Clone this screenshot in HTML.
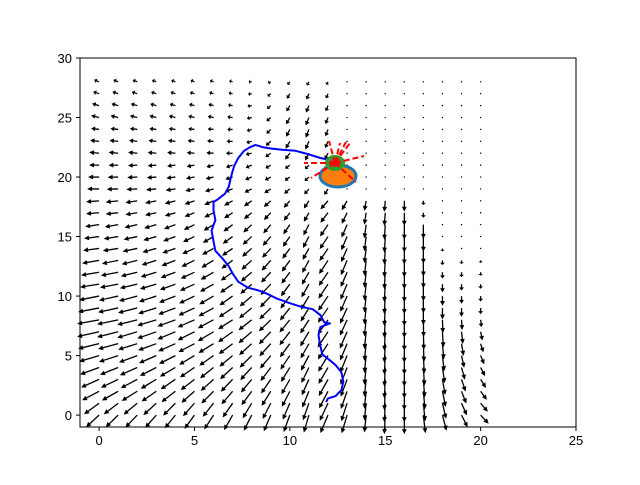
<!DOCTYPE html>
<html><head><meta charset="utf-8"><style>
html,body{margin:0;padding:0;background:#fff;}
svg text{font-family:"Liberation Sans","DejaVu Sans",sans-serif;font-size:13px;fill:#000;}
</style></head><body>
<svg id="chart" width="640" height="480" viewBox="0 0 640 480" xmlns="http://www.w3.org/2000/svg">
<rect width="640" height="480" fill="#fff"/>
<g id="arrows"></g>
<g id="path"></g>
<g id="marks"></g>
<rect x="80" y="58" width="496" height="369" fill="none" stroke="#000" stroke-width="1"/>
<g id="axes"></g>
</svg>
<script>
const xTicks=[0,5,10,15,20,25];
const yTicks=[0,5,10,15,20,25,30];
// horizontal (leftward) px magnitude at x=0 by row y=0..28
const uRow=[13,15,17,18,19,20,21,22,22,21,20,19,18,17,16,15,14,13,13,12,11,10,10,9,8,8,7,6,5];
// downward px component at x=0 by row y=0..28
const vRow=[12,11,9,8,7,6,5,5,4,4,4,3,3,3,2,2,2,1,1,0,0,0,-1,-1,-1,-2,-2,-2,-2];
// downward flow strength by row
const dRow=[19,19,19,19,19,19,19,19,18,18,18,18,17,17,16,16,15,13,11,8,6,6,7,8,8,8,7,6,4];
const pathX=[12.5,12.2,11.6,11,10.3,9.6,9,8.6,8.2,7.9,7.6,7.3,7.1,7,6.9,6.8,6.6,6.2,6,6,6.1,5.9,6,6.1,6.5,6.8,7,7.3,7.8,8.3,8.8,9.3,10,10.6,11.2,11.6,11.8,12.1,11.6,11.5,11.6,11.7,12.1,12.4,12.7,12.8,12.7,12.4,12,11.9];
const pathY=[21.2,21.4,21.6,21.9,22.2,22.3,22.4,22.5,22.7,22.5,22.2,21.6,21,20.5,19.9,19.2,18.6,18.1,17.9,17.2,16.4,15.5,14.6,13.8,13.1,12.5,11.9,11.2,10.7,10.5,10.2,9.8,9.4,9.1,8.9,8.4,7.8,7.7,7.4,6.7,5.8,5.1,4.6,4.2,3.6,2.8,2.1,1.6,1.4,1.1];
const X0=-1,X1=25,Y0=-1,Y1=30,PL=80,PR=576,PT=58,PB=427;
const sx=v=>PL+(v-X0)*(PR-PL)/(X1-X0);
const sy=v=>PB-(v-Y0)*(PB-PT)/(Y1-Y0);
const NS="http://www.w3.org/2000/svg";
function mk(t,a,p){const e=document.createElementNS(NS,t);for(const k in a)e.setAttribute(k,a[k]);p.appendChild(e);return e;}
const ax=document.getElementById('axes');
xTicks.forEach(t=>{const x=sx(t);mk('line',{x1:x,y1:PB,x2:x,y2:PB+4,stroke:'#000'},ax);const tx=mk('text',{x:x,y:PB+18,'text-anchor':'middle'},ax);tx.textContent=t;

});
yTicks.forEach(t=>{const y=sy(t);mk('line',{x1:PL-4,y1:y,x2:PL,y2:y,stroke:'#000'},ax);const tx=mk('text',{x:PL-8,y:y+5,'text-anchor':'end'},ax);tx.textContent=t;

});
const ag=document.getElementById('arrows');
const cl=(v,a,b)=>Math.max(a,Math.min(b,v));
for(let y=0;y<=28;y++){for(let x=0;x<=20;x++){
 let w=x<14?Math.pow((14-x)/14,0.6):0;
 let U=-uRow[y]*w;
 let V=vRow[y]*w;
 let fx=Math.pow(cl(x/15,0,1),1.3);
 if(x>16)fx*=Math.exp(-Math.pow((x-16)/4.5,2));
 let d=dRow[y]*fx;
 if(y>21) d*=Math.exp(-Math.pow((x-10.5)/2.5,2))*1.7;
 V+=d;
 if(x>=12&&x<16&&y<19) U-=(16-x)*0.9;
 if(x>16) U+=(x-16)/4*Math.max(0,9-y)*0.9;
 let R=1;
 if(x>=13&&y>=19)R=0.08;
 if(x>=18)R*=cl((16-y)/9,0.06,1);
 if(x>=17&&x<18&&y>16)R*=0.4;
 U*=R;V*=R;
 const x0=sx(x),y0=sy(y),L=Math.hypot(U,V);
 let el;
 if(L<2.5){el=mk('circle',{cx:x0,cy:y0,r:0.7,fill:'#000'},ag);}
 else{
  const ux=U/L,uy=V/L,px=-uy,py=ux,hl=Math.min(5,L*0.5),hw=2.4,sw=0.65;
  const bx=x0+ux*(L-hl),by=y0+uy*(L-hl);
  const pts=[[x0+px*sw,y0+py*sw],[bx+px*sw,by+py*sw],[bx+px*hw,by+py*hw],[x0+U,y0+V],[bx-px*hw,by-py*hw],[bx-px*sw,by-py*sw],[x0-px*sw,y0-py*sw]];
  el=mk('polygon',{points:pts.map(p=>p[0].toFixed(1)+','+p[1].toFixed(1)).join(' '),fill:'#000'},ag);
 }
 
 
}}
const pg=document.getElementById('path');
const pl=mk('polyline',{points:pathX.map((v,i)=>sx(v).toFixed(1)+','+sy(pathY[i]).toFixed(1)).join(' '),fill:'none',stroke:'#0000ff','stroke-width':2,'stroke-linejoin':'round'},pg);


const mg=document.getElementById('marks');
const e1=mk('ellipse',{cx:338,cy:176,rx:18,ry:11,fill:'#ff7f0e',stroke:'#1f77b4','stroke-width':3},mg);


const e2=mk('ellipse',{cx:335,cy:163,rx:8,ry:6,fill:'#d62728',stroke:'#2ca02c','stroke-width':4},mg);


[[304,163],[311,178],[356,182],[364,156],[350,143],[346,142],[340,143],[329,141]].forEach(p=>{
 const l=mk('line',{x1:335,y1:163,x2:p[0],y2:p[1],stroke:'#ff0000','stroke-width':2,'stroke-dasharray':'6,3'},mg);
 
 
});
</script>
</body></html>
